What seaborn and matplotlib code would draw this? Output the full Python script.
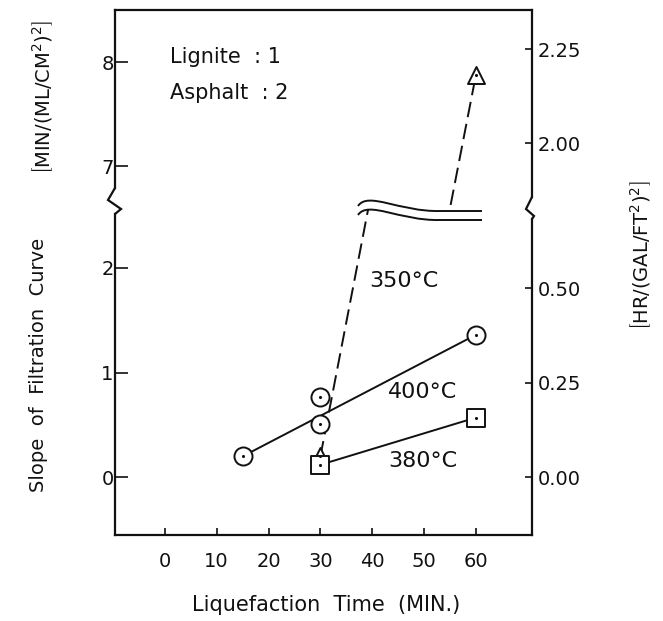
import numpy as np
import pandas as pd
import matplotlib
matplotlib.use("Agg")
import matplotlib.pyplot as plt
import seaborn as sns
from matplotlib.path import Path
from matplotlib.patches import PathPatch
from matplotlib.lines import Line2D
from matplotlib.ticker import FormatStrFormatter

sns.set_theme(style="ticks")
plt.rcParams["font.family"] = ["DejaVu Sans"]
plt.rcParams["mathtext.fontset"] = "dejavusans"

# ---- data: slope of filtration curve, min/(ml/cm^2)^2 ----
time_400 = [15, 30, 30, 60]
slope_400 = [0.20, 0.77, 0.51, 1.36]
time_380 = [30, 60]
slope_380 = [0.12, 0.57]
time_350 = [30, 60]
slope_350 = [0.20, 7.88]

x_ticks = [0, 10, 20, 30, 40, 50, 60]
left_ticks_low = [0, 1, 2]
left_ticks_high = [7, 8]
right_ticks_low = [0.00, 0.25, 0.50]
right_ticks_high = [2.00, 2.25]
UNIT_FACTOR = 0.277  # min/(ml/cm^2)^2 -> hr/(gal/ft^2)^2

INK = "#111111"
W, H = 663, 621
fig = plt.figure(figsize=(W / 100, H / 100), dpi=100)
fig.patch.set_facecolor("white")


def fx(px):
    return px / W


def fy(py):
    return 1 - py / H


# frame geometry (pixels) and the axis break
L, R, T, B, BRK = 115, 532, 10, 535, 210
LO_LIM = (-0.55, 2.55)
HI_LIM = (6.58, 8.50)

ax_hi = fig.add_axes([fx(L), fy(BRK), fx(R) - fx(L), fy(T) - fy(BRK)])
ax_lo = fig.add_axes([fx(L), fy(B), fx(R) - fx(L), fy(BRK) - fy(B)])


def hi_y(py):
    return HI_LIM[1] - (py - T) * (HI_LIM[1] - HI_LIM[0]) / (BRK - T)


def lo_y(py):
    return LO_LIM[1] - (py - BRK) * (LO_LIM[1] - LO_LIM[0]) / (B - BRK)


dash = (0, (8, 3.5))
for ax in (ax_hi, ax_lo):
    ax.set_facecolor("none")
    # 400 C trend line between the extreme runs
    sns.lineplot(x=[time_400[0], time_400[-1]], y=[slope_400[0], slope_400[-1]],
                 ax=ax, color=INK, lw=1.4, estimator=None, sort=False)
    sns.lineplot(x=time_380, y=slope_380, ax=ax, color=INK, lw=1.4,
                 estimator=None, sort=False)
    sns.lineplot(x=time_350, y=slope_350, ax=ax, color=INK, lw=1.4,
                 linestyle=dash, estimator=None, sort=False)

    sns.scatterplot(x=time_400, y=slope_400, ax=ax, marker="o", s=169,
                    facecolor="white", edgecolor=INK, linewidth=1.4, zorder=3)
    sns.scatterplot(x=time_350, y=slope_350, ax=ax, marker="^", s=150,
                    facecolor="white", edgecolor=INK, linewidth=1.4, zorder=3)
    sns.scatterplot(x=time_380, y=slope_380, ax=ax, marker="s", s=150,
                    facecolor="white", edgecolor=INK, linewidth=1.4, zorder=4)
    # centre dots
    for xs, ys in ((time_400, slope_400), (time_350, slope_350), (time_380, slope_380)):
        sns.scatterplot(x=xs, y=ys, ax=ax, marker="o", s=5, color=INK,
                        linewidth=0, zorder=5)

    ax.set_xlim(-9.6, 70.8)
    for side in ("left", "right", "top", "bottom"):
        ax.spines[side].set_color(INK)
        ax.spines[side].set_linewidth(1.6)
    ax.tick_params(axis="y", direction="in", length=9, width=1.2, pad=1.0,
                   labelsize=14, colors=INK, right=False)
    ax.set_xlabel("")
    ax.set_ylabel("")

ax_hi.set_ylim(*HI_LIM)
ax_lo.set_ylim(*LO_LIM)
ax_hi.set_yticks(left_ticks_high)
ax_lo.set_yticks(left_ticks_low)
ax_hi.set_xticks([])
ax_lo.set_xticks(x_ticks)
ax_lo.tick_params(axis="x", direction="in", length=5, width=1.2, pad=12,
                  labelsize=14, colors=INK)

ax_hi.spines["bottom"].set_visible(False)
ax_lo.spines["top"].set_visible(False)
ax_hi.spines["left"].set_bounds(hi_y(188), HI_LIM[1])
ax_hi.spines["right"].set_bounds(hi_y(197), HI_LIM[1])
ax_lo.spines["left"].set_bounds(LO_LIM[0], lo_y(214))
ax_lo.spines["right"].set_bounds(LO_LIM[0], lo_y(219))

# right-hand axis in hr/(gal/ft^2)^2
for ax, ticks in ((ax_lo, right_ticks_low), (ax_hi, right_ticks_high)):
    sec = ax.secondary_yaxis("right", functions=(lambda y: y * UNIT_FACTOR,
                                                 lambda y: y / UNIT_FACTOR))
    sec.set_yticks(ticks)
    sec.yaxis.set_major_formatter(FormatStrFormatter("%.2f"))
    sec.tick_params(direction="in", length=5, width=1.2, pad=4,
                    labelsize=14, colors=INK)
    sec.spines["right"].set_visible(False)

# zig-zag break marks on both spines
zig_left = [(0, 188), (-7, 200), (6, 209), (0, 214)]
zig_right = [(0, 197), (-6, 209), (2, 216), (0, 219)]
for x0, pts in ((L, zig_left), (R, zig_right)):
    fig.add_artist(Line2D([fx(x0 + dx) for dx, _ in pts], [fy(py) for _, py in pts],
                          color=INK, lw=1.6, solid_joinstyle="miter"))

# wavy double break line across the 350 C curve
for off in (0, 9):
    verts = [(358, 206 + off), (368, 191 + off), (400, 212 + off), (440, 211 + off),
             (482, 211 + off)]
    codes = [Path.MOVETO, Path.CURVE4, Path.CURVE4, Path.CURVE4, Path.LINETO]
    path = Path([(fx(px), fy(py)) for px, py in verts], codes)
    fig.add_artist(PathPatch(path, transform=fig.transFigure, fill=False,
                             edgecolor=INK, lw=1.4))

# curve labels
ax_lo.text(39.5, 1.87, "350°C", fontsize=16, color=INK, va="center", ha="left")
ax_lo.text(43.0, 0.81, "400°C", fontsize=16, color=INK, va="center", ha="left")
ax_lo.text(43.0, 0.16, "380°C", fontsize=16, color=INK, va="center", ha="left")

fig.text(fx(170), fy(57), "Lignite  : 1", fontsize=15, color=INK, va="center")
fig.text(fx(170), fy(93), "Asphalt  : 2", fontsize=15, color=INK, va="center")

# axis titles
fig.text(fx(326), fy(605), "Liquefaction  Time  (MIN.)", fontsize=15, color=INK,
         ha="center", va="center")
fig.text(fx(39), fy(365), "Slope  of  Filtration  Curve", fontsize=14, color=INK,
         rotation=90, ha="center", va="center")
fig.text(fx(43), fy(97), r"$\left[\mathrm{MIN/(ML/CM^2)^2}\right]$", fontsize=14,
         color=INK, rotation=90, ha="center", va="center")
fig.text(fx(641), fy(255), r"$\left[\mathrm{HR/(GAL/FT^2)^2}\right]$", fontsize=14,
         color=INK, rotation=90, ha="center", va="center")

fig.savefig("out.png", dpi=100, facecolor="white")
